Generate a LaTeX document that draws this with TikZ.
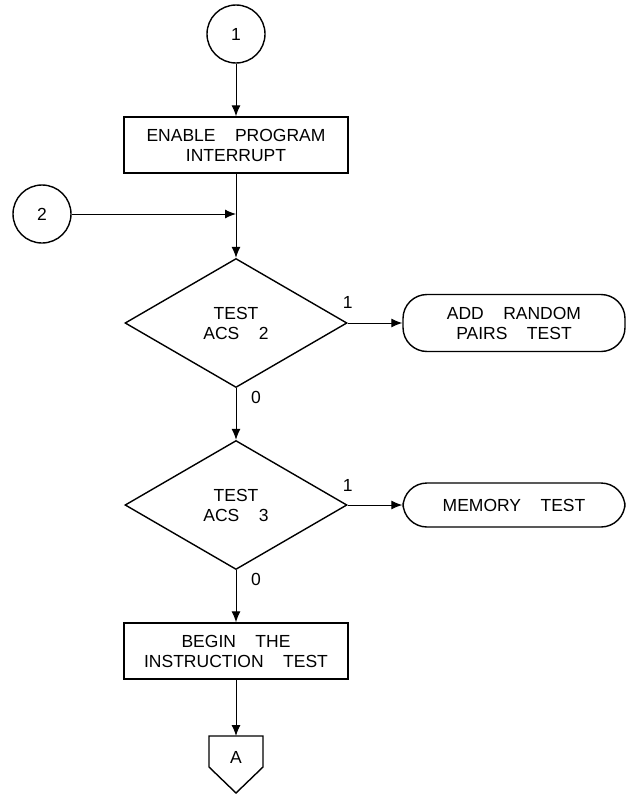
\documentclass[tikz,border=0pt]{standalone}
\usepackage{fontspec}
\newfontfamily\chartfont[WordSpace=4]{Liberation Sans}
\usetikzlibrary{arrows.meta,shapes.geometric,positioning}
\tikzset{%
  font=\chartfont\fontsize{17.5}{20}\selectfont, >={Latex[length=11pt,width=9pt]},
  connector/.style={draw,circle,line width=1.4pt,minimum size=58pt,inner sep=0pt},
  process/.style={draw,rectangle,line width=1.4pt,minimum width=224pt,minimum height=56pt,align=center},
  decision/.style={draw,diamond,line width=1.4pt,minimum width=222pt,minimum height=129pt,align=center,inner sep=0pt},
  terminal/.style={draw,rectangle,rounded corners=24pt,line width=1.4pt,minimum width=222pt,align=center},
  offpage/.style={line width=1.4pt,line join=miter},
  line/.style={draw,line width=1pt,->},
  branch/.style={inner sep=1pt}
}
\begin{document}
\begin{tikzpicture}[x=1pt,y=-1pt]
	\useasboundingbox (0,0) rectangle (639,795);
	% main column
	\node[connector] (start) at (236,34) {1};
	\node[process] (enable) at (236,145) {ENABLE PROGRAM\\INTERRUPT};
	\node[connector] (entry) at (42,214) {2};
	\coordinate (merge) at (236,214);
	\node[decision] (acs2) at (236,323) {TEST\\ACS 2};
	\node[decision] (acs3) at (236,505) {TEST\\ACS 3};
	\node[process] (begin) at (236,651) {BEGIN THE\\INSTRUCTION TEST};
	% off-page connector
	\coordinate (gototop) at (236,736);
	\draw[offpage] (209,736) -- (263,736) -- (263,767) -- (236,793) -- (209,767) -- cycle;
	\node (goto) at (236,757) {A};
	% side branches
	\node[terminal,minimum height=57pt] (pairs) at (514,323) {ADD RANDOM\\PAIRS TEST};
	\node[terminal,minimum height=44pt] (memory) at (514,505) {MEMORY TEST};
	\node[branch,above=13pt of acs2.east] (acs2yes) {1};
	\node[branch,below right=2pt and 14pt of acs2.south] (acs2no) {0};
	\node[branch,above=12pt of acs3.east] (acs3yes) {1};
	\node[branch,below right=2pt and 14pt of acs3.south] (acs3no) {0};
	% connectors
	\path[line] (start) -- (enable);
	\path[line] (enable) -- (acs2);
	\path[line] (entry) -- (merge);
	\path[line] (acs2) -- (pairs);
	\path[line] (acs2) -- (acs3);
	\path[line] (acs3) -- (memory);
	\path[line] (acs3) -- (begin);
	\path[line] (begin) -- (gototop);
\end{tikzpicture}
\end{document}
